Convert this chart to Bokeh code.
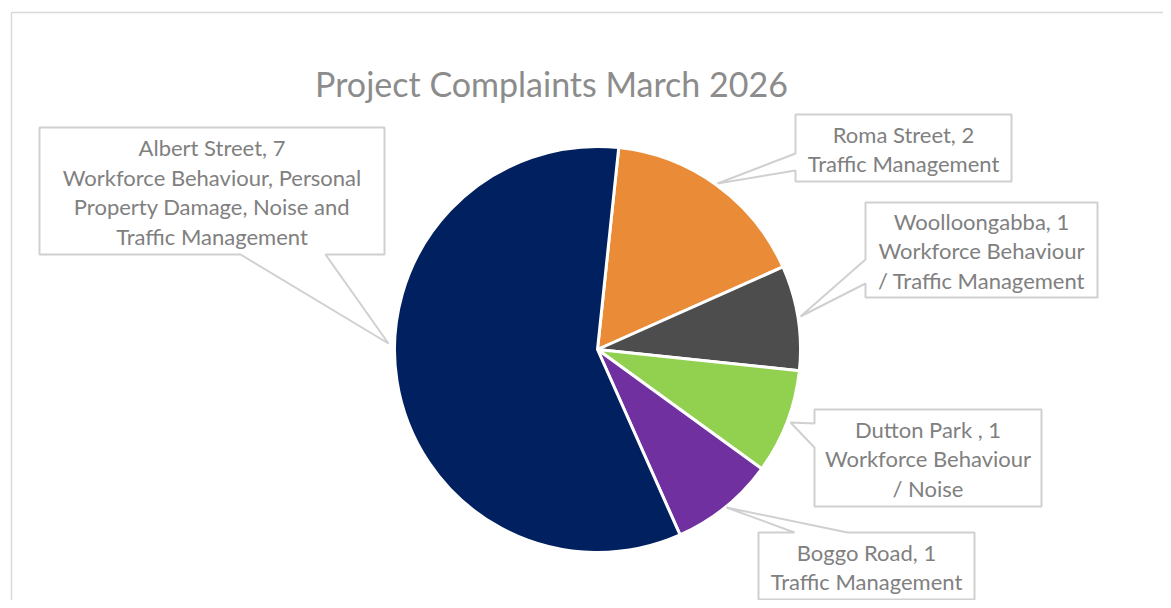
from bokeh.plotting import figure
from bokeh.models import Range1d, ColumnDataSource
from bokeh.core.properties import value
from bokeh.embed import file_html
from bokeh.resources import INLINE
import numpy as np

# ---- data ----
sites = ["Roma Street", "Woolloongabba", "Dutton Park ", "Boggo Road", "Albert Street"]
complaints = [2, 1, 1, 1, 7]
issues = [
    "Traffic Management",
    "Workforce Behaviour\n/ Traffic Management",
    "Workforce Behaviour\n/ Noise",
    "Traffic Management",
    "Workforce Behaviour, Personal\nProperty Damage, Noise and\nTraffic Management",
]
colors = ["#EA8C37", "#4D4D4D", "#92D050", "#7030A0", "#002060"]
title_text = "Project Complaints March 2026"

# ---- layout (pixel coordinates, y measured from top) ----
W, H = 1163, 600
def Y(y):
    return H - y

FONT = "Lato"
TEXT_COLOR = "#808080"
BOX_COLOR = "#D0D0D0"

cx, cy, R = 597, 349, 203
first_angle = 6  # degrees clockwise from 12 o'clock

callouts = [
    [(795, 114), (1011, 114), (1011, 181), (795, 181), (795, 170), (717, 183), (795, 153)],
    [(865, 202), (1097, 202), (1097, 297), (865, 297), (865, 283), (800, 316), (865, 259)],
    [(814, 409), (1041, 409), (1041, 506), (814, 506), (814, 447), (790, 422), (814, 423)],
    [(758, 532), (794, 532), (726, 507), (847, 532), (974, 532), (974, 599), (758, 599)],
    [(39, 127), (384, 127), (384, 254), (325, 254), (388, 343), (240, 254), (39, 254)],
]
boxes = [(795, 114, 1011, 181), (865, 202, 1097, 297), (814, 409, 1041, 506),
         (758, 532, 974, 599), (39, 127, 384, 254)]

p = figure(width=W, height=H, output_backend="svg", toolbar_location=None,
           x_range=Range1d(0, W), y_range=Range1d(0, H), min_border=0)
p.axis.visible = False
p.grid.visible = False
p.outline_line_color = None
p.background_fill_color = "white"

# chart frame
p.line(x=[11, 11, W], y=[Y(H), Y(12), Y(12)], line_color="#D9D9D9", line_width=1.5)

# pie
vals = np.array(complaints, dtype=float)
cum = np.concatenate([[0], np.cumsum(vals)]) / vals.sum() * 360.0
start_clock = 90 - first_angle - cum[:-1]
end_clock = 90 - first_angle - cum[1:]
src = ColumnDataSource(dict(start=end_clock, end=start_clock, color=colors))
p.wedge(x=cx, y=Y(cy), radius=R, start_angle="start", end_angle="end",
        start_angle_units="deg", end_angle_units="deg",
        fill_color="color", line_color="white", line_width=3, source=src)

# callouts
for poly in callouts:
    p.patch(x=[v[0] for v in poly], y=[Y(v[1]) for v in poly],
            fill_color="white", line_color=BOX_COLOR, line_width=2)

labels = [f"{s}, {c}\n{d}" for s, c, d in zip(sites, complaints, issues)]
lx = [(b[0] + b[2]) / 2 for b in boxes]
ly = [Y((b[1] + b[3]) / 2 + 1) for b in boxes]
p.text(x=lx, y=ly, text=labels, text_align="center", text_baseline="middle",
       text_font=value(FONT), text_font_size="22px", text_color=TEXT_COLOR,
       text_line_height=1.1)

# title
p.text(x=[551], y=[Y(83)], text=[title_text], text_align="center", text_baseline="middle",
       text_font=value(FONT), text_font_size="34px", text_color="#8C8C8C")

open("out.html", "w").write(file_html(p, INLINE))
